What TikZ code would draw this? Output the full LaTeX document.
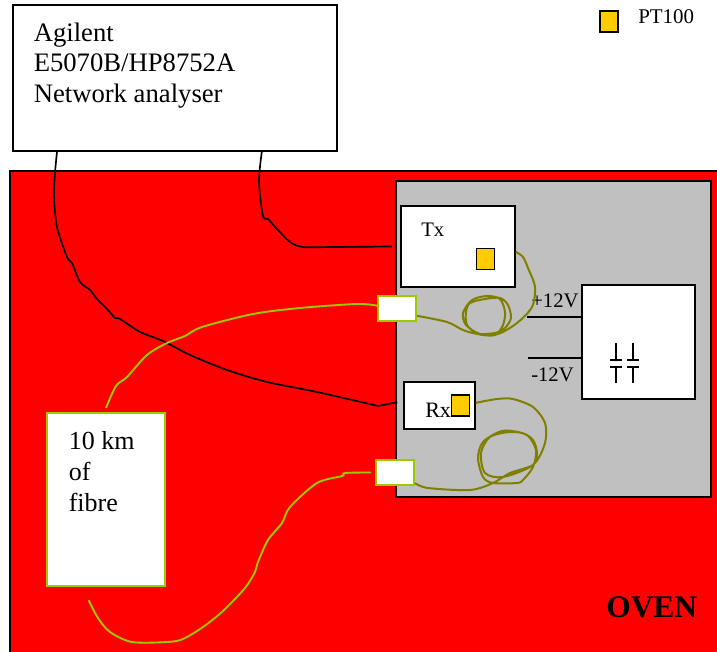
\documentclass[tikz,border=0pt]{standalone}
\usepackage{fontspec}
\setmainfont{Liberation Serif}
\usepackage{xcolor}
\definecolor{ovenred}{HTML}{FF0000}
\definecolor{platform}{HTML}{C0C0C0}
\definecolor{sensor}{HTML}{FFCC00}
\definecolor{fibregreen}{HTML}{99CC00}
\definecolor{pigtail}{HTML}{808000}
\newcommand{\px}{0.75pt}

\tikzset{
  box/.style={draw=black, fill=white, line width=1.2pt, inner sep=0pt, minimum width=#1},
  fibrebox/.style={draw=fibregreen, fill=white, line width=1.5pt, inner sep=0pt, minimum width=#1},
  pt/.style={draw=black, fill=sensor, line width=1.4pt, inner sep=0pt, minimum width=18*\px, minimum height=21*\px},
  cable/.style={line width=1.25pt, black},
  fibre/.style={line width=1.4pt, fibregreen},
  tail/.style={line width=1.5pt, pigtail},
  txt/.style={inner sep=0pt, anchor=base west, font=\fontsize{#1}{#1}\selectfont},
}

\begin{document}
\begin{tikzpicture}[x=\px, y=-\px]
\clip (0,0) rectangle (717,652);

\node[box=724*\px, fill=ovenred, minimum height=495*\px] (oven) at (372,418.5) {};
\node[box=315*\px, fill=platform, minimum height=316*\px] (bench) at (553.5,339) {};

\node[box=324*\px, minimum height=146*\px] (analyser) at (175,78) {};
\node[box=114*\px, minimum height=81*\px] (tx) at (458,246.5) {};
\node[box=71*\px, minimum height=47*\px] (rx) at (439.5,405.5) {};
\node[box=113*\px, minimum height=114*\px] (power) at (638.5,342) {};
\node[fibrebox=118*\px, minimum height=173*\px] (spool) at (106,499.5) {};
\node[fibrebox=38*\px, minimum height=25*\px] (conntop) at (397,308.5) {};
\node[fibrebox=38*\px, minimum height=25*\px] (connbot) at (395,472.5) {};

\node[txt=15.5pt] (txlabel) at (421,237) {Tx};
\node[txt=16.5pt] (rxlabel) at (425,417) {Rx};
\node[pt] (pttx) at (485.5,259) {};
\node[pt] (ptrx) at (460.5,405.5) {};
\node[pt] (ptkey) at (609,21.5) {};
\node[txt=15.7pt] (keylabel) at (638,24) {PT100};

\node[txt=20pt] (an1) at (33.5,42) {Agilent};
\node[txt=20pt] (an2) at (33.5,72) {E5070B/HP8752A};
\node[txt=20pt] (an3) at (33.5,102.5) {Network analyser};
\node[txt=19.5pt] (sp1) at (68.5,449.5) {10 km};
\node[txt=19.5pt] (sp2) at (68.5,480.5) {of};
\node[txt=19.5pt] (sp3) at (68.5,511) {fibre};
\node[txt=15.5pt] (plus) at (531,307) {+12V};
\node[txt=15.5pt] (minus) at (531,381) {-12V};
\node[txt=23.6pt, font=\fontsize{23.6pt}{23.6pt}\selectfont\bfseries] (ovenlabel) at (606,617) {OVEN};

\draw[cable] ([yshift=18.6pt]power.west) -- ++(-54,0);
\draw[cable] ([yshift=-12pt]power.west) -- ++(-53,0);

\foreach \capx in {616,633}{
\draw[cable] (\capx,343) -- (\capx,359);
\draw[cable] (\capx-6,360) -- (\capx+6,360);
\draw[cable] (\capx-6,367) -- (\capx+6,367);
\draw[cable] (\capx,367) -- (\capx,383);
}

\draw[cable] plot[smooth, tension=0.5] coordinates {([xshift=-88.5pt]analyser.south) (55,173) (54,197) (57,227) (67,257) (72,263) (80,282) (90,290) (97,299) (108,310) (115,318) (120,319) (140,332) (163,341) (190,355) (227,370) (267,382) (317,392) (378,406)};
\draw[cable] (378,406) -- ([xshift=-4.5pt,yshift=2.5pt]rx.west);
\draw[cable] plot[smooth, tension=0.5] coordinates {([xshift=-57pt]analyser.south east) (259,182) (263,216) (268,219) (277,229) (290,242) (303,247) (333,247) ([xshift=-6pt]tx.west)};

\draw[fibre] plot[smooth, tension=0.5] coordinates {([yshift=3pt]spool.north) (116,386) (127,377) (147,355) (167,343) (185,336) (202,327) (253,314) (300,308) (357,304) ([xshift=.75pt,yshift=2pt]conntop.west)};
\draw[fibre] plot[smooth, tension=0.5] coordinates {([xshift=-13pt,yshift=-10pt]spool.south) (98,618) (110,632) (132,642) (167,642) (183,639) (203,627) (223,611) (245,588) (255,572) (258,562) (268,540) (282,523) (290,507) (317,483) (342,476) (345,473) ([xshift=-3pt]connbot.west)};

\draw[tail] plot[smooth, tension=0.5] coordinates {([yshift=-5.5pt]conntop.east) (447,322) (463,330) (478,334) (495,333) (505,328) (511,318) (508,305) (500,298) (485,299) (470,303) (466,312) (467,325) (478,334) (495,335) (503,325) (505,312) (500,299) (487,296) (472,300) (463,313) (466,325) (480,334) (498,334) (517,323) (532,307) (535,287) (528,268) (523,257) ([yshift=-4pt]tx.east)};
\draw[tail] plot[smooth, tension=0.5] coordinates {([yshift=-8pt]connbot.east) (428,488) (470,490) (493,483) (510,473) (533,465) (537,453) (533,440) (522,433) (502,431) (483,442) (478,458) (483,477) (493,483) (517,483) (523,480) (533,467) (536,450) (527,435) (510,432) (490,437) (481,453) (485,473) (503,477) (533,465) (545,443) (545,423) (533,407) (513,399) (497,399) ([yshift=2pt]rx.east)};

\end{tikzpicture}
\end{document}
